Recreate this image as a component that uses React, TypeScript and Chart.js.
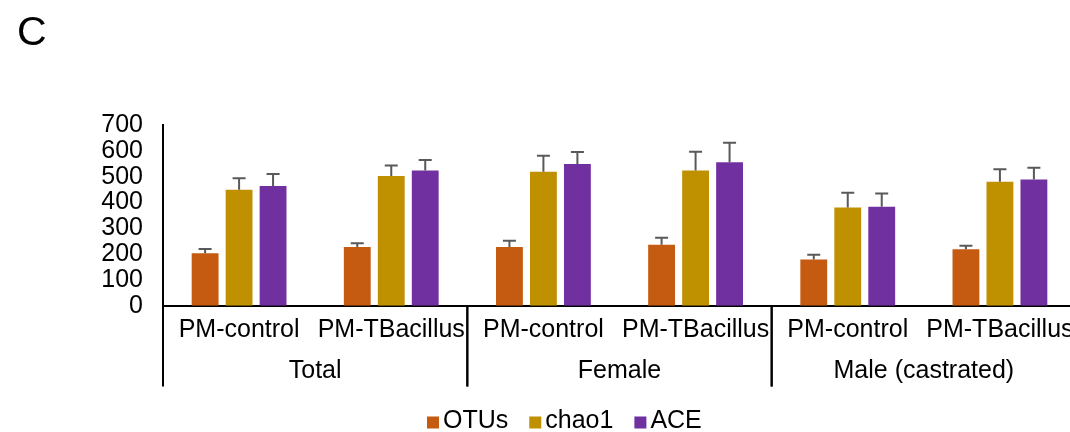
import React, { useEffect, useRef } from "react";
import { Chart, registerables } from "chart.js";

Chart.register(...registerables);

const categories = ["PM-control", "PM-TBacillus", "PM-control", "PM-TBacillus", "PM-control", "PM-TBacillus"];
const groups = ["Total", "Female", "Male (castrated)"];
const seriesNames = ["OTUs", "chao1", "ACE"];
const seriesColors = ["#C55A11", "#BF9000", "#7030A0"];
const otus = [203, 227, 227, 236, 179, 219];
const otusErr = [17, 15, 25, 27, 18, 13];
const chao1 = [449, 502, 519, 524, 380, 480];
const chao1Err = [45, 41, 62, 72, 58, 49];
const ace = [464, 524, 549, 556, 383, 489];
const aceErr = [46, 40, 46, 75, 52, 45];
const yTicks = [0, 100, 200, 300, 400, 500, 600, 700];
const panelLabel = "C";

const FONT = "'Liberation Sans', Arial, Helvetica, sans-serif";

export default function App() {
  const ref = useRef<HTMLCanvasElement | null>(null);

  useEffect(() => {
    if (!ref.current) return;
    const errs = [otusErr, chao1Err, aceErr];
    const vals = [otus, chao1, ace];

    const overlay = {
      id: "overlay",
      afterDatasetsDraw(chart: any) {
        const ctx = chart.ctx;
        const y = chart.scales.y;
        ctx.save();
        ctx.strokeStyle = "#595959";
        ctx.lineWidth = 2;
        chart.data.datasets.forEach((ds: any, i: number) => {
          const meta = chart.getDatasetMeta(i);
          meta.data.forEach((el: any, j: number) => {
            const top = y.getPixelForValue(vals[i][j] + errs[i][j]);
            ctx.beginPath();
            ctx.moveTo(el.x, el.y);
            ctx.lineTo(el.x, top);
            ctx.moveTo(el.x - 6.5, top);
            ctx.lineTo(el.x + 6.5, top);
            ctx.stroke();
          });
        });
        ctx.restore();
      },
      afterDraw(chart: any) {
        const ctx = chart.ctx;
        const x = chart.scales.x;
        const area = chart.chartArea;
        ctx.save();
        // panel label
        ctx.fillStyle = "#000";
        ctx.font = `41px ${FONT}`;
        ctx.textAlign = "left";
        ctx.textBaseline = "alphabetic";
        ctx.fillText(panelLabel, 17, 45);

        // category labels
        ctx.font = `25px ${FONT}`;
        ctx.textAlign = "center";
        categories.forEach((c, i) => {
          ctx.fillText(c, x.getPixelForValue(i), 336.5);
        });
        // group labels & separators
        const n = categories.length / groups.length;
        const step = x.getPixelForValue(1) - x.getPixelForValue(0);
        ctx.strokeStyle = "#000";
        ctx.lineWidth = 2;
        groups.forEach((g, gi) => {
          const left = x.getPixelForValue(gi * n) - step / 2;
          const right = x.getPixelForValue(gi * n + n - 1) + step / 2;
          ctx.fillText(g, (left + right) / 2, 378);
          ctx.beginPath();
          ctx.moveTo(left, area.bottom);
          ctx.lineTo(left, 386.5);
          ctx.moveTo(right, area.bottom);
          ctx.lineTo(right, 386.5);
          ctx.stroke();
        });

        // legend
        ctx.textAlign = "left";
        let lx = 427;
        seriesNames.forEach((name, i) => {
          ctx.fillStyle = seriesColors[i];
          ctx.fillRect(lx, 416.5, 12, 12);
          ctx.fillStyle = "#000";
          ctx.fillText(name, lx + 16, 428);
          lx += 16 + ctx.measureText(name).width + 21;
        });
        ctx.restore();
      },
    };

    const chart = new Chart(ref.current, {
      type: "bar",
      data: {
        labels: categories,
        datasets: seriesNames.map((name, i) => ({
          label: name,
          data: vals[i],
          backgroundColor: seriesColors[i],
          borderWidth: 0,
          categoryPercentage: 0.67,
          barPercentage: 0.79,
        })),
      },
      options: {
        animation: false,
        responsive: false,
        maintainAspectRatio: false,
        layout: { padding: { top: 125, right: 14, left: 0, bottom: 0 } },
        plugins: {
          legend: { display: false },
          tooltip: { enabled: false },
          title: { display: false },
        },
        scales: {
          x: {
            type: "category",
            grid: { display: false, drawTicks: false },
            border: { display: true, color: "#000", width: 2 },
            ticks: { display: false },
            afterFit: (s: any) => {
              s.height = 432 - 305.7;
            },
          },
          y: {
            min: 0,
            max: 700,
            afterBuildTicks: (s: any) => {
              s.ticks = yTicks.map((v) => ({ value: v }));
            },
            ticks: {
              font: { size: 25, family: FONT },
              color: "#000",
              padding: 20,
              autoSkip: false,
            },
            grid: { display: false, drawTicks: false },
            border: { display: true, color: "#000", width: 2 },
            afterFit: (s: any) => {
              s.width = 163;
            },
          },
        },
      },
      plugins: [overlay],
    } as any);
    return () => chart.destroy();
  }, []);

  return (
    <div style={{ position: "fixed", left: 0, top: 0, width: 1090, height: 432, background: "#fff" }}>
      <canvas ref={ref} width={1090} height={432} style={{ width: 1090, height: 432, display: "block" }} />
    </div>
  );
}
